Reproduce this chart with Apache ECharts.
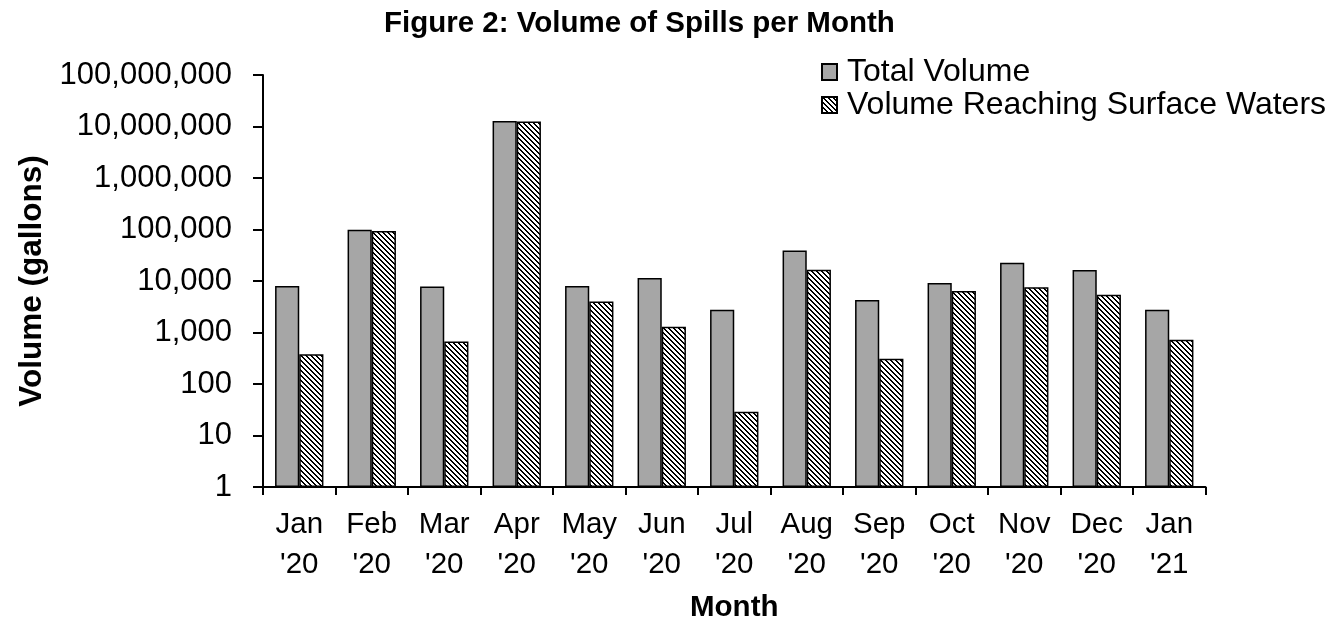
<!DOCTYPE html>
<html>
<head>
<meta charset="utf-8">
<script src="https://cdn.jsdelivr.net/npm/echarts@6/dist/echarts.min.js"></script>
<style>html,body{margin:0;padding:0;background:#fff;}#c{width:1333px;height:626px;}</style>
</head>
<body>
<div id="c"></div>
<script>
const categories = ["Jan\n'20","Feb\n'20","Mar\n'20","Apr\n'20","May\n'20","Jun\n'20","Jul\n'20","Aug\n'20","Sep\n'20","Oct\n'20","Nov\n'20","Dec\n'20","Jan\n'21"];
const totalVolume = [8000, 99000, 7800, 12800000, 8000, 11400, 2750, 39000, 4300, 9100, 22500, 16300, 2750];
const surfaceVolume = [380, 94000, 670, 12500000, 4000, 1300, 29, 16500, 310, 6400, 7600, 5400, 720];
const yTicks = [1, 10, 100, 1000, 10000, 100000, 1000000, 10000000, 100000000];
const seriesNames = ['Total Volume', 'Volume Reaching Surface Waters'];

function makeHatch() {
  const n = 5;
  const c = document.createElement('canvas');
  c.width = n; c.height = n;
  const ctx = c.getContext('2d');
  ctx.fillStyle = '#ffffff';
  ctx.fillRect(0, 0, n, n);
  ctx.fillStyle = '#000000';
  for (let y = 0; y < n; y++) {
    ctx.fillRect(y % n, y, 1, 1);
    ctx.fillRect((y + 1) % n, y, 1, 1);
  }
  return c;
}

const chart = echarts.init(document.getElementById('c'), null, {renderer: 'canvas'});
const fontFam = '"Liberation Sans", Arial, sans-serif';
chart.setOption({
  animation: false,
  backgroundColor: '#ffffff',
  title: {
    text: 'Figure 2: Volume of Spills per Month',
    left: 384, top: 9, padding: 0,
    textStyle: {fontFamily: fontFam, fontSize: 29.5, fontWeight: 'bold', color: '#000'}
  },
  legend: {
    orient: 'vertical',
    left: 821, top: 56, padding: 0,
    icon: 'rect',
    itemWidth: 15, itemHeight: 16, itemGap: 1,
    data: seriesNames,
    textStyle: {fontFamily: fontFam, fontSize: 32, color: '#000', lineHeight: 32, padding: [0, 0, 0, 5]}
  },
  grid: {left: 263, right: 127.5, top: 75, bottom: 139, containLabel: false, outerBoundsMode: 'none'},
  xAxis: {
    type: 'category',
    data: categories,
    name: 'Month',
    nameLocation: 'middle',
    nameGap: 106,
    nameTextStyle: {fontFamily: fontFam, fontSize: 29.5, fontWeight: 'bold', color: '#000'},
    axisLine: {lineStyle: {color: '#000', width: 2}},
    axisTick: {show: true, length: 8, lineStyle: {color: '#000', width: 2}, alignWithLabel: false},
    axisLabel: {fontFamily: fontFam, fontSize: 29.5, color: '#000', lineHeight: 40, margin: 18, interval: 0}
  },
  yAxis: {
    type: 'log',
    logBase: 10,
    min: yTicks[0],
    max: yTicks[yTicks.length - 1],
    interval: 1,
    name: 'Volume (gallons)',
    nameLocation: 'middle',
    nameGap: 213,
    nameTextStyle: {fontFamily: fontFam, fontSize: 31.5, fontWeight: 'bold', color: '#000'},
    axisLine: {show: true, lineStyle: {color: '#000', width: 2}},
    axisTick: {show: true, length: 10, lineStyle: {color: '#000', width: 2}},
    splitLine: {show: false},
    minorTick: {show: false},
    axisLabel: {
      fontFamily: fontFam, fontSize: 31, color: '#000', margin: 31,
      formatter: function (v) { return Math.round(v).toLocaleString('en-US'); }
    }
  },
  series: [
    {
      name: seriesNames[0], type: 'bar', data: totalVolume,
      barGap: '0%', barCategoryGap: '33.3%',
      itemStyle: {color: '#a6a6a6', borderColor: '#000', borderWidth: 1.5}
    },
    {
      name: seriesNames[1], type: 'bar', data: surfaceVolume,
      barGap: '0%', barCategoryGap: '33.3%',
      itemStyle: {color: {image: makeHatch(), repeat: 'repeat'}, borderColor: '#000', borderWidth: 1.5}
    }
  ]
});
</script>
</body>
</html>
